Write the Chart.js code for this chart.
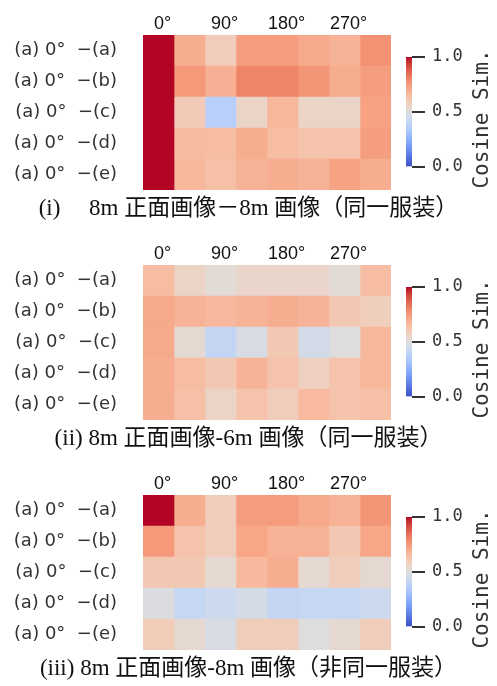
<!DOCTYPE html>
<html>
<head>
<meta charset="utf-8">
<script src="https://cdn.jsdelivr.net/npm/chart.js@4.4.1/dist/chart.umd.min.js"></script>
<style>
  html, body { margin: 0; padding: 0; background: #fff; overflow: hidden; }
  #wrap { position: relative; width: 497px; height: 686px; }
  canvas { position: absolute; }
</style>
</head>
<body>
<div id="wrap"></div>
<script>
// ---------- data ----------
const rowLabels = ['(a) 0°  −(a)', '(a) 0°  −(b)', '(a) 0°  −(c)', '(a) 0°  −(d)', '(a) 0°  −(e)'];
const colLabels = ['0°', '', '90°', '', '180°', '', '270°', ''];
const cbarTicks = [0, 0.5, 1];
const cbarTitle = 'Cosine Sim.';

const captions = [
  '(i)\u3000 8m 正面画像－8m 画像（同一服装）',
  '(ii) 8m 正面画像-6m 画像（同一服装）',
  '(iii) 8m 正面画像-8m 画像（非同一服装）'
];

// cosine similarity, rows (a)-(e) x columns 0..7
const simSameClothes8m = [
  [1.00, 0.70, 0.59, 0.74, 0.74, 0.71, 0.68, 0.77],
  [1.00, 0.75, 0.69, 0.80, 0.80, 0.76, 0.70, 0.74],
  [1.00, 0.60, 0.375, 0.555, 0.67, 0.555, 0.555, 0.73],
  [1.00, 0.655, 0.65, 0.70, 0.65, 0.63, 0.63, 0.74],
  [1.00, 0.67, 0.64, 0.68, 0.70, 0.68, 0.73, 0.70]
];
const simSameClothes6m = [
  [0.65, 0.56, 0.52, 0.55, 0.55, 0.55, 0.52, 0.65],
  [0.71, 0.68, 0.665, 0.68, 0.70, 0.68, 0.61, 0.585],
  [0.71, 0.53, 0.41, 0.475, 0.61, 0.46, 0.50, 0.67],
  [0.70, 0.65, 0.61, 0.68, 0.63, 0.575, 0.63, 0.67],
  [0.70, 0.64, 0.56, 0.63, 0.59, 0.66, 0.63, 0.64]
];
const simDiffClothes8m = [
  [1.00, 0.70, 0.59, 0.74, 0.745, 0.71, 0.685, 0.76],
  [0.75, 0.63, 0.59, 0.72, 0.685, 0.685, 0.61, 0.72],
  [0.61, 0.61, 0.53, 0.665, 0.70, 0.53, 0.59, 0.53],
  [0.49, 0.42, 0.44, 0.465, 0.41, 0.42, 0.42, 0.44],
  [0.595, 0.53, 0.475, 0.59, 0.59, 0.50, 0.53, 0.59]
];
const panels = [simSameClothes8m, simSameClothes6m, simDiffClothes8m];

// ---------- coolwarm colormap ----------
const coolwarm = [
  [59,76,192],[68,90,204],[77,104,215],[87,117,225],[98,130,234],[108,142,241],[119,154,247],[130,165,251],
  [141,176,254],[152,185,255],[163,194,255],[174,201,253],[184,208,249],[194,213,244],[204,217,238],[213,219,230],
  [221,221,221],[229,216,209],[236,211,197],[241,204,185],[245,196,173],[247,187,160],[247,177,148],[247,166,135],
  [244,154,123],[241,141,111],[236,127,99],[229,112,88],[222,96,77],[213,80,66],[203,62,56],[192,40,47],[180,4,38]
];
function cmap(v) {
  v = Math.max(0, Math.min(1, v));
  const p = v * (coolwarm.length - 1);
  const i = Math.min(Math.floor(p), coolwarm.length - 2);
  const t = p - i;
  const a = coolwarm[i], b = coolwarm[i + 1];
  const c = a.map((x, k) => Math.round(x + (b[k] - x) * t));
  return `rgb(${c[0]},${c[1]},${c[2]})`;
}

const wrap = document.getElementById('wrap');
function makeCanvas(left, top, w, h) {
  const c = document.createElement('canvas');
  c.width = w; c.height = h;
  c.style.left = left + 'px'; c.style.top = top + 'px';
  c.style.width = w + 'px'; c.style.height = h + 'px';
  wrap.appendChild(c);
  return c;
}

panels.forEach((vals, p) => {
  const top = p * 230;
  // ----- heatmap -----
  const hc = makeCanvas(0, top, 497, 230);
  const datasets = colLabels.map((_, c) => ({
    data: rowLabels.map(() => [c, c + 1]),
    backgroundColor: rowLabels.map((_, r) => cmap(vals[r][c])),
    borderWidth: 0,
    grouped: false,
    barPercentage: 1,
    categoryPercentage: 1
  }));
  new Chart(hc, {
    type: 'bar',
    data: { labels: rowLabels, datasets },
    options: {
      indexAxis: 'y',
      responsive: false,
      animation: false,
      devicePixelRatio: 1,
      layout: { padding: 0 },
      plugins: {
        legend: { display: false },
        tooltip: { enabled: false },
        title: {
          display: true,
          position: 'bottom',
          text: captions[p],
          color: '#111',
          font: { family: '"Liberation Serif", "Noto Sans CJK JP", serif', size: 23, weight: 'normal', lineHeight: 1.2 },
          padding: { top: 5.5, bottom: 6.9 }
        }
      },
      scales: {
        y: {
          type: 'category',
          grid: { display: false },
          border: { display: false },
          ticks: { color: '#333', font: { family: '"DejaVu Sans", sans-serif', size: 18 }, padding: 18 },
          afterFit: s => { s.width = 143; }
        },
        yr: {
          type: 'linear',
          position: 'right',
          grid: { display: false },
          border: { display: false },
          ticks: { display: false },
          afterFit: s => { s.width = 106; }
        },
        x: {
          type: 'linear',
          position: 'top',
          min: 0, max: colLabels.length,
          grid: { display: false },
          border: { display: false },
          afterBuildTicks: s => { s.ticks = colLabels.map((_, i) => ({ value: i + 0.5 })); },
          ticks: {
            autoSkip: false, maxRotation: 0,
            callback: (v, i) => colLabels[i],
            color: '#111',
            font: { family: '"Liberation Sans", Arial, sans-serif', size: 18 },
            padding: -8,
            labelOffset: 4
          },
          afterFit: s => { s.height = 35; }
        }
      }
    }
  });

  // ----- colorbar -----
  const cc = makeCanvas(380, top, 117, 230);
  const cbTitlePlugin = {
    id: 'cbTitle',
    afterDraw(chart) {
      const ca = chart.chartArea;
      const ctx = chart.ctx;
      ctx.save();
      ctx.translate(ca.right + 71, (ca.top + ca.bottom) / 2 + 7);
      ctx.rotate(-Math.PI / 2);
      ctx.fillStyle = '#333';
      ctx.font = '21px "DejaVu Sans Mono", monospace';
      ctx.textAlign = 'center';
      ctx.textBaseline = 'middle';
      ctx.fillText(cbarTitle, 0, 0);
      ctx.restore();
    }
  };
  new Chart(cc, {
    type: 'bar',
    data: {
      labels: [''],
      datasets: [{
        data: [[0, 1]],
        borderWidth: 0,
        barPercentage: 1,
        categoryPercentage: 1,
        backgroundColor: (ctx) => {
          const ca = ctx.chart.chartArea;
          if (!ca) return 'rgba(0,0,0,0)';
          const g = ctx.chart.ctx.createLinearGradient(0, ca.bottom, 0, ca.top);
          coolwarm.forEach((c, i) => g.addColorStop(i / (coolwarm.length - 1), `rgb(${c[0]},${c[1]},${c[2]})`));
          return g;
        }
      }]
    },
    options: {
      responsive: false,
      animation: false,
      devicePixelRatio: 1,
      layout: { padding: { left: 26, top: 57, bottom: 63, right: 0 } },
      plugins: { legend: { display: false }, tooltip: { enabled: false }, title: { display: false } },
      scales: {
        x: { display: false },
        y: {
          position: 'right',
          min: 0, max: 1,
          afterBuildTicks: s => { s.ticks = cbarTicks.map(v => ({ value: v })); },
          grid: { drawOnChartArea: false, drawTicks: true, tickLength: 13, color: '#333', lineWidth: 2 },
          border: { display: false },
          ticks: {
            callback: v => Number(v).toFixed(1),
            color: '#333',
            font: { family: '"DejaVu Sans Mono", monospace', size: 17 },
            padding: 7
          },
          afterFit: s => { s.width = 85; }
        }
      }
    },
    plugins: [cbTitlePlugin]
  });
});
</script>
</body>
</html>
